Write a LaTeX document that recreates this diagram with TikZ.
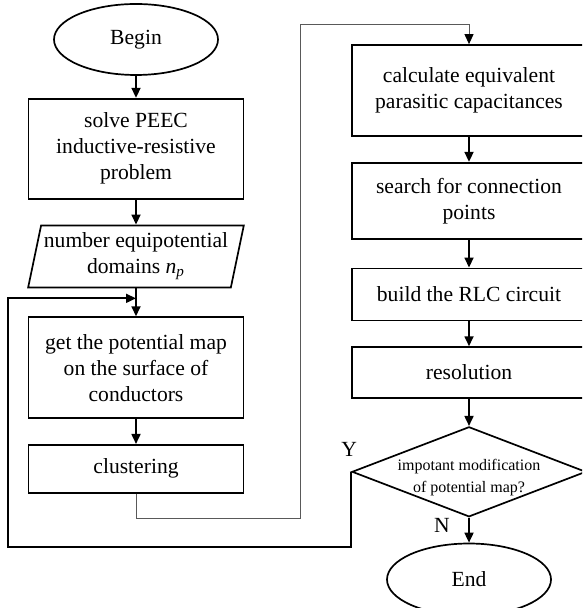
\documentclass[tikz,border=0pt]{standalone}
\usepackage{fontspec}
\setmainfont{Liberation Serif}
\usetikzlibrary{arrows.meta,positioning,shapes.geometric,calc}

\begin{document}
\begin{tikzpicture}[x=0.5pt,y=-0.5pt,node distance=12.5pt,font=\fontsize{10.8}{13}\selectfont,
box/.style={draw,line width=0.85pt,align=center,minimum width=107.5pt,inner sep=2pt},
rbox/.style={box,minimum width=117pt},
term/.style={draw,ellipse,line width=0.85pt,minimum width=82pt,minimum height=35.5pt,inner sep=0pt},
io/.style={draw,trapezium,trapezium left angle=76,trapezium right angle=104,trapezium stretches=true,minimum width=108pt,minimum height=31pt,line width=0.85pt,align=center,inner sep=1pt},
dec/.style={draw,diamond,line width=0.85pt,minimum width=117pt,minimum height=45pt,inner sep=0pt},
dectext/.style={font=\fontsize{8}{11}\selectfont,align=center,yshift=-3pt},
arr/.style={-{Triangle[length=5pt,width=4.5pt,color=black]},line width=0.85pt},
thinarr/.style={arr,line width=0.5pt,draw=black!65}]
\useasboundingbox (0,0) rectangle (582,608);
\clip (0,0) rectangle (582,608);
% left column
\node[term](begin) at (136,39.5) {Begin};
\node[box,minimum height=50pt,below=11pt of begin](solve){solve PEEC\\inductive-resistive\\problem};
\node[io,below=of solve](num){number equipotential\\domains \textit{n}\textsubscript{\textit{p}}};
\node[box,minimum height=50.5pt,below=14pt of num](map){get the potential map\\on the surface of\\conductors};
\node[box,minimum height=24pt,below=of map](clu){clustering};
% right column
\node[rbox,minimum height=45.5pt](calc) at (469,90.5) {calculate equivalent\\parasitic capacitances};
\node[rbox,minimum height=38pt,below=of calc](search){search for connection\\points};
\node[rbox,minimum height=26pt,below=14pt of search](rlc){build the RLC circuit};
\node[rbox,minimum height=25.5pt,below=of rlc](res){resolution};
\node[dec,below=13.5pt of res,label={[dectext]center:impotant modification\\of potential map?}](dec){};
\node[term,minimum height=36pt,below=of dec](end){End};
\node(ylab) at ([shift={(-2,-22)}]dec.west) {Y};
\node(nlab) at ([shift={(-27,8)}]dec.south) {N};
% connectors
\coordinate(merge) at ($(num.south)!0.36!(map.north)$);
\coordinate(loopl) at (8,547);
\coordinate(jb) at (300,518);
\coordinate(jt) at (300,25);
\draw[arr](begin)--(solve);\draw[arr](solve)--(num);\draw[arr](num.south)--(map.north);\draw[arr](map)--(clu);
\draw[arr](calc)--(search);\draw[arr](search)--(rlc);\draw[arr](rlc)--(res);\draw[arr](res)--(dec);\draw[arr](dec)--(end);
\draw[thinarr](clu.south)|-(jb)--(jt)-|(calc.north);
\draw[arr](dec.west)|-(loopl)|-(merge);
\end{tikzpicture}
\end{document}
